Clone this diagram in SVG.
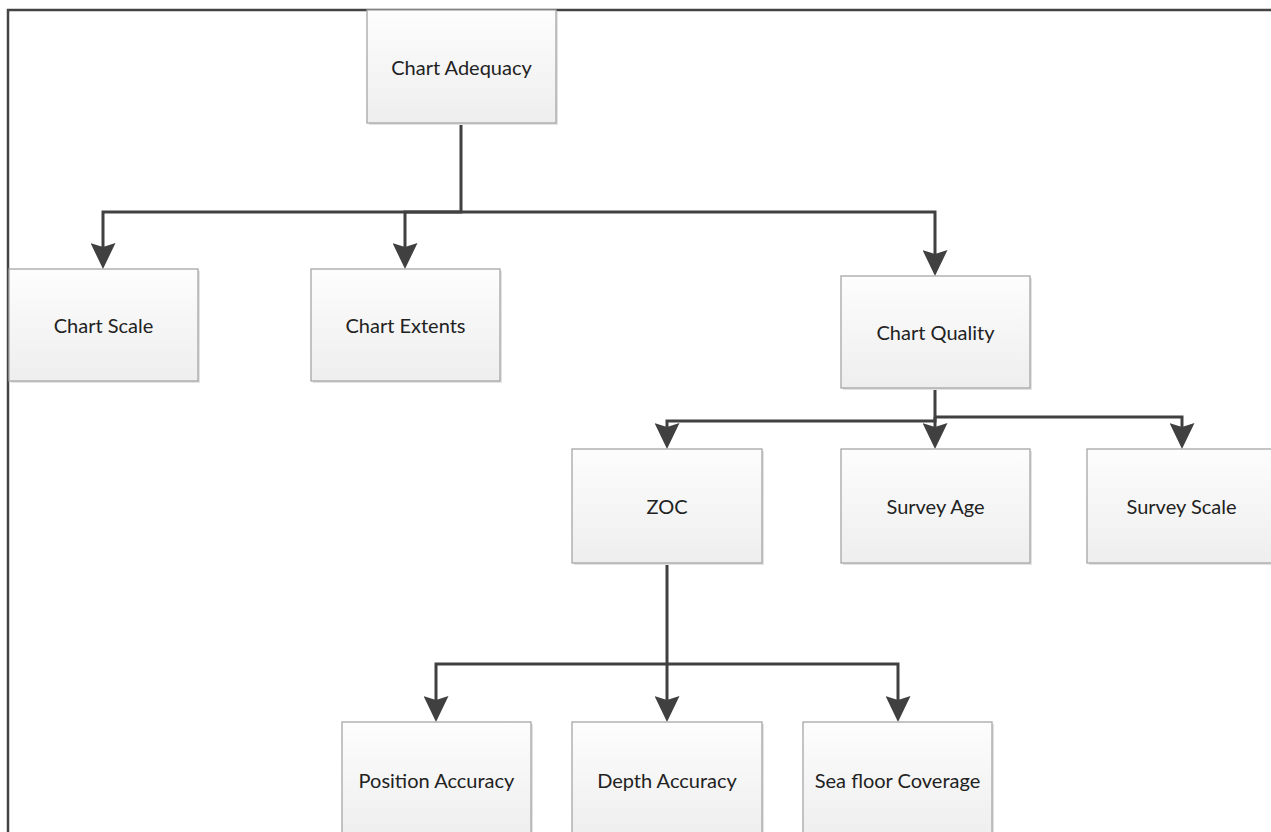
<svg xmlns="http://www.w3.org/2000/svg" width="1271" height="832" viewBox="0 0 1271 832">
<style>
.box{fill:url(#g);stroke:#a6a6a6;stroke-width:1.3}
.sh{fill:#e3e3e3}
.lbl{font-family:Lato,"Open Sans","Liberation Sans",sans-serif;font-size:20px;fill:#222;text-anchor:middle;dominant-baseline:central}
.con{fill:none;stroke:#404040;stroke-width:3;marker-end:url(#arr)}
.frame{fill:none;stroke:#444;stroke-width:2.5}
</style>
<defs>
<linearGradient id="g" x1="0" y1="0" x2="0" y2="1">
<stop offset="0" stop-color="#fdfdfd"/>
<stop offset="1" stop-color="#eeeeee"/>
</linearGradient>
<marker id="arr" viewBox="0 0 26 25" refX="16" refY="12.5" markerWidth="26" markerHeight="25" orient="auto" markerUnits="userSpaceOnUse">
<path d="M0,0 L26,12.5 L0,25 L4,12.5 Z" fill="#404040"/>
</marker>
</defs>
<rect width="1271" height="832" fill="#fff"/>
<path class="frame" d="M8,832 V10 H1271"/>
<g id="connectors">
<path class="con" d="M461,123 V212 H103 V259"/>
<path class="con" d="M461,212 H405 V259"/>
<path class="con" d="M461,212 H935 V266"/>
<path class="con" d="M935,388 V421 H667 V439"/>
<path class="con" d="M935,417 V439"/>
<path class="con" d="M935,417 H1182 V439"/>
<path class="con" d="M667,563 V664 H436 V712"/>
<path class="con" d="M667,664 V712"/>
<path class="con" d="M667,664 H898 V712"/>
</g>
<g id="chart-adequacy"><rect class="sh" x="369" y="12" width="189" height="113"/><rect class="box" x="367" y="10" width="189" height="113"/><text class="lbl" x="461.5" y="67">Chart Adequacy</text></g>
<g id="chart-scale"><rect class="sh" x="11" y="271" width="189" height="112"/><rect class="box" x="9" y="269" width="189" height="112"/><text class="lbl" x="103.5" y="325">Chart Scale</text></g>
<g id="chart-extents"><rect class="sh" x="313" y="271" width="189" height="112"/><rect class="box" x="311" y="269" width="189" height="112"/><text class="lbl" x="405.5" y="325">Chart Extents</text></g>
<g id="chart-quality"><rect class="sh" x="843" y="278" width="189" height="112"/><rect class="box" x="841" y="276" width="189" height="112"/><text class="lbl" x="935.5" y="332">Chart Quality</text></g>
<g id="zoc"><rect class="sh" x="574" y="451" width="190" height="114"/><rect class="box" x="572" y="449" width="190" height="114"/><text class="lbl" x="667" y="506">ZOC</text></g>
<g id="survey-age"><rect class="sh" x="843" y="451" width="189" height="114"/><rect class="box" x="841" y="449" width="189" height="114"/><text class="lbl" x="935.5" y="506">Survey Age</text></g>
<g id="survey-scale"><rect class="sh" x="1089" y="451" width="189" height="114"/><rect class="box" x="1087" y="449" width="189" height="114"/><text class="lbl" x="1181.5" y="506">Survey Scale</text></g>
<g id="position-accuracy"><rect class="sh" x="344" y="724" width="189" height="116"/><rect class="box" x="342" y="722" width="189" height="116"/><text class="lbl" x="436.5" y="780">Position Accuracy</text></g>
<g id="depth-accuracy"><rect class="sh" x="574" y="724" width="190" height="116"/><rect class="box" x="572" y="722" width="190" height="116"/><text class="lbl" x="667" y="780">Depth Accuracy</text></g>
<g id="sea-floor-coverage"><rect class="sh" x="805" y="724" width="189" height="116"/><rect class="box" x="803" y="722" width="189" height="116"/><text class="lbl" x="897.5" y="780">Sea floor Coverage</text></g>
</svg>
